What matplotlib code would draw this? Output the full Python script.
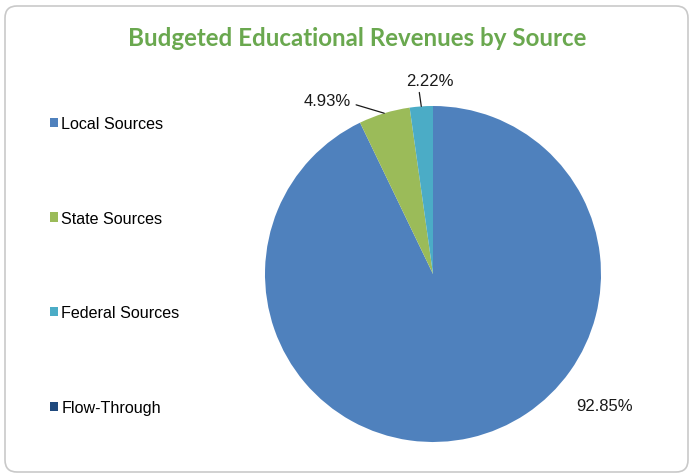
import matplotlib
matplotlib.use("Agg")
import matplotlib.pyplot as plt
from matplotlib.patches import FancyBboxPatch
import numpy as np

# Revenue shares by source (percent)
categories = ["Local Sources", "State Sources", "Federal Sources", "Flow-Through"]
shares = [92.85, 4.93, 2.22, 0.0]
colors = ["#4F81BD", "#9BBB59", "#4BACC6", "#1F497D"]
label_texts = ["92.85%", "4.93%", "2.22%", ""]

W, H, DPI = 692, 477, 100
fig = plt.figure(figsize=(W / DPI, H / DPI), dpi=DPI)
fig.patch.set_facecolor("white")

# Rounded chart-area border
border = FancyBboxPatch((0.05, 0.04), 6.83, 4.66,
                        boxstyle="round,pad=0,rounding_size=0.12",
                        transform=fig.dpi_scale_trans,
                        facecolor="none", edgecolor="#c9c9c9", linewidth=1.2,
                        zorder=-1)
fig.patches.append(border)

# Pie axes: centre at (433, 275) px, radius 168 px
cx, cy, r = 433, 275, 168
lim = 1.2
ax = fig.add_axes([cx / W - lim * r / W, (H - cy) / H - lim * r / H,
                   2 * lim * r / W, 2 * lim * r / H])

wedges, _ = ax.pie(shares, colors=colors, startangle=90, counterclock=False,
                   radius=1.0, wedgeprops=dict(linewidth=0))
ax.set_xlim(-lim, lim)
ax.set_ylim(-lim, lim)
ax.set_aspect("equal")
ax.axis("off")

txt_font = dict(family="Liberation Sans", fontsize=12, color="#1a1a1a")
leader = dict(arrowstyle="-", color="#1a1a1a", lw=0.9, shrinkB=0)

# Data labels
for w, lab in zip(wedges, label_texts):
    if not lab:
        continue
    mid = np.deg2rad((w.theta1 + w.theta2) / 2)
    edge = (np.cos(mid), np.sin(mid))
    if lab == "92.85%":
        ax.text(1.02, -0.78, lab, ha="center", va="center", **txt_font)
    elif lab == "4.93%":
        ax.annotate(lab, xy=edge, xytext=(-0.49, 1.03), ha="right", va="center",
                    arrowprops=dict(leader, shrinkA=2, relpos=(1.0, 0.35)),
                    **txt_font)
    else:
        ax.annotate(lab, xy=edge, xytext=(-0.02, 1.15), ha="center", va="center",
                    arrowprops=dict(leader, shrinkA=1, relpos=(0.27, 0.0)),
                    **txt_font)

# Title
fig.text(357 / W, 1 - 38 / H, "Budgeted Educational Revenues by Source",
         ha="center", va="center", fontsize=17.4, fontweight="bold",
         family="Lato", color="#6aa84f")

# Legend on the left
fig.legend(wedges, categories, loc="upper left",
           bbox_to_anchor=(50 / W, 1 - 117 / H), frameon=False,
           prop=dict(family="Liberation Sans", size=11.6),
           handlelength=0.5, handleheight=0.5, handletextpad=0.2,
           labelspacing=4.95, borderaxespad=0, borderpad=0)

fig.savefig("out.png", dpi=DPI, facecolor="white")
